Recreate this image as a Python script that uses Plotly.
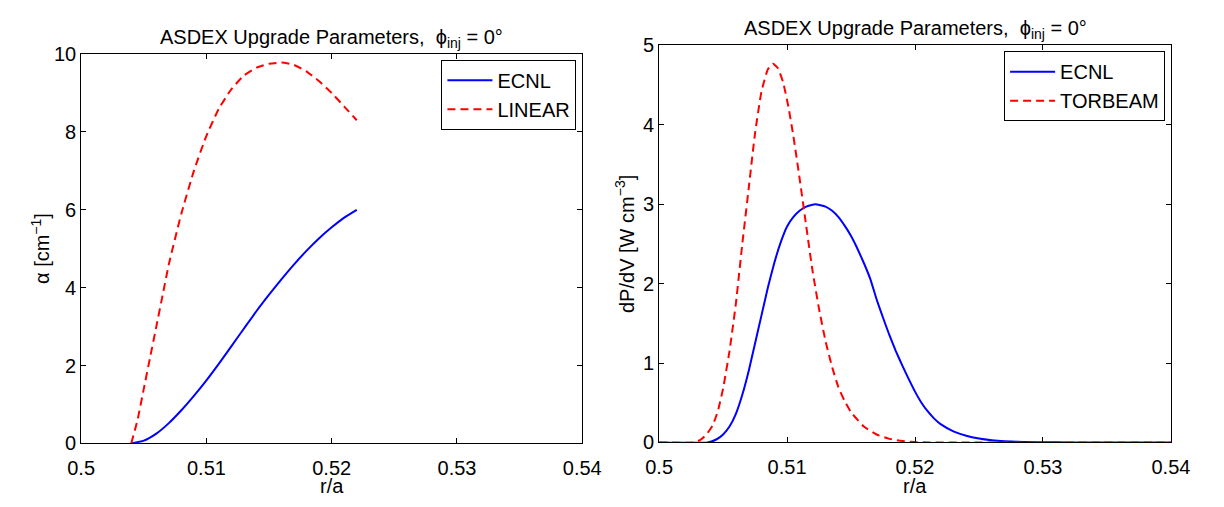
import plotly.graph_objects as go

W, H = 1224, 507

# ---- left panel: absorption coefficient ----
alpha_r = [0.5040, 0.5050, 0.5060, 0.5070, 0.5080, 0.5090, 0.5100, 0.5110, 0.5120,
           0.5130, 0.5140, 0.5150, 0.5160, 0.5170, 0.5180, 0.5190, 0.5200, 0.5210, 0.5220]
alpha_ecnl = [0.0, 0.07, 0.25, 0.52, 0.85, 1.22, 1.62, 2.05, 2.5,
              2.95, 3.4, 3.82, 4.22, 4.6, 4.95, 5.27, 5.55, 5.8, 6.0]

lin_r = [0.5040, 0.5045, 0.5050, 0.5055, 0.5060, 0.5065, 0.5070, 0.5080, 0.5090, 0.5100,
         0.5110, 0.5120, 0.5130, 0.5140, 0.5150, 0.5160, 0.5170, 0.5180, 0.5190, 0.5200,
         0.5210, 0.5220]
alpha_linear = [0.0, 0.6, 1.4, 2.2, 3.0, 3.8, 4.6, 5.9, 7.0, 7.9,
                8.6, 9.1, 9.45, 9.65, 9.75, 9.78, 9.72, 9.55, 9.3, 9.0,
                8.65, 8.3]

# ---- right panel: power deposition ----
ecnl_r = [0.500, 0.5038, 0.5045, 0.5050, 0.5055, 0.5060, 0.5065, 0.5070, 0.5075, 0.5080,
          0.5085, 0.5090, 0.5095, 0.5100, 0.5105, 0.5110, 0.5115, 0.5122, 0.5130, 0.5135,
          0.5140, 0.5145, 0.5150, 0.5155, 0.5160, 0.5165, 0.5170, 0.5175, 0.5180, 0.5185,
          0.5190, 0.5195, 0.5200, 0.5205, 0.5210, 0.5215, 0.5220, 0.5230, 0.5240, 0.5250,
          0.5260, 0.5270, 0.5280, 0.5290, 0.5300, 0.5320, 0.5400]
ecnl_p = [0.0, 0.0, 0.04, 0.10, 0.20, 0.36, 0.60, 0.90, 1.25, 1.60,
          1.95, 2.26, 2.52, 2.72, 2.84, 2.92, 2.97, 3.00, 2.97, 2.92,
          2.84, 2.73, 2.60, 2.44, 2.26, 2.06, 1.80, 1.57, 1.35, 1.15,
          0.97, 0.80, 0.64, 0.50, 0.39, 0.30, 0.23, 0.14, 0.085, 0.05,
          0.028, 0.015, 0.008, 0.004, 0.002, 0.0, 0.0]

torb_r = [0.500, 0.5027, 0.5032, 0.5037, 0.5042, 0.5046, 0.5050, 0.5055, 0.5060, 0.5065,
          0.5070, 0.5075, 0.5080, 0.5085, 0.5089, 0.5093, 0.5097, 0.5101, 0.5105, 0.5110,
          0.5115, 0.5120, 0.5125, 0.5130, 0.5135, 0.5140, 0.5145, 0.5150, 0.5160, 0.5170,
          0.5180, 0.5190, 0.5200, 0.5210, 0.5400]
torb_p = [0.0, 0.0, 0.03, 0.10, 0.22, 0.40, 0.68, 1.15, 1.75, 2.50,
          3.20, 3.90, 4.42, 4.70, 4.77, 4.71, 4.53, 4.23, 3.85, 3.30,
          2.72, 2.15, 1.68, 1.28, 0.96, 0.70, 0.52, 0.38, 0.20, 0.10,
          0.045, 0.018, 0.005, 0.0, 0.0]

x_ticks = [0.5, 0.51, 0.52, 0.53, 0.54]

BLUE = "#0000ff"
RED = "#ff0000"
DASH = "8px,5px"
FONT = "Liberation Sans, Arial, Helvetica, sans-serif"

fig = go.Figure()
fig.add_trace(go.Scatter(x=alpha_r, y=alpha_ecnl, mode="lines", name="ECNL",
                         line=dict(color=BLUE, width=2, shape="spline", smoothing=0.5),
                         xaxis="x", yaxis="y", legend="legend"))
fig.add_trace(go.Scatter(x=lin_r, y=alpha_linear, mode="lines", name="LINEAR",
                         line=dict(color=RED, width=2, dash=DASH, shape="spline", smoothing=0.5),
                         xaxis="x", yaxis="y", legend="legend"))
fig.add_trace(go.Scatter(x=ecnl_r, y=ecnl_p, mode="lines", name="ECNL",
                         line=dict(color=BLUE, width=2, shape="spline", smoothing=0.4),
                         xaxis="x2", yaxis="y2", legend="legend2"))
fig.add_trace(go.Scatter(x=torb_r, y=torb_p, mode="lines", name="TORBEAM",
                         line=dict(color=RED, width=2, dash=DASH, shape="spline", smoothing=0.4),
                         xaxis="x2", yaxis="y2", legend="legend2"))

def px_x(p):
    return p / W

def px_y(p):
    return 1 - p / H

L = dict(x0=69, x1=584, top=45, bot=452)
R = dict(x0=663, x1=1189, top=36, bot=451)

axis_common = dict(showline=True, linecolor="black", linewidth=1, mirror="ticks",
                   ticks="inside", ticklen=5, tickcolor="black", showgrid=False,
                   zeroline=False, tickfont=dict(family=FONT, size=20, color="black"))

legend_common = dict(xanchor="right", yanchor="top", bgcolor="white", bordercolor="black",
                     borderwidth=1, font=dict(family=FONT, size=20, color="black"),
                     tracegroupgap=0, itemwidth=45)

fig.update_layout(
    width=W, height=H,
    margin=dict(l=0, r=0, t=0, b=0),
    paper_bgcolor="white", plot_bgcolor="white",
    font=dict(family=FONT, size=20, color="black"),
    xaxis=dict(domain=[px_x(L["x0"]), px_x(L["x1"])], range=[0.5, 0.54],
               tickvals=x_ticks, anchor="y", ticklabelstandoff=7, **axis_common),
    yaxis=dict(domain=[px_y(L["bot"]), px_y(L["top"])], range=[0, 10],
               tickvals=[0, 2, 4, 6, 8, 10], anchor="x", **axis_common),
    xaxis2=dict(domain=[px_x(R["x0"]), px_x(R["x1"])], range=[0.5, 0.54],
                tickvals=x_ticks, anchor="y2", ticklabelstandoff=7, **axis_common),
    yaxis2=dict(domain=[px_y(R["bot"]), px_y(R["top"])], range=[0, 5],
                tickvals=[0, 1, 2, 3, 4, 5], anchor="x2", **axis_common),
    legend=dict(x=px_x(L["x1"] - 6), y=px_y(L["top"] + 6), **legend_common),
    legend2=dict(x=px_x(R["x1"] - 6), y=px_y(R["top"] + 6), **legend_common),
    showlegend=True,
)

title_text = "ASDEX Upgrade Parameters,  ϕ<sub>inj</sub> = 0°"
ann = []
for P in (L, R):
    ann.append(dict(text=title_text, xref="paper", yref="paper",
                    x=px_x((P["x0"] + P["x1"]) / 2), y=px_y(P["top"] - 1),
                    xanchor="center", yanchor="bottom", showarrow=False,
                    font=dict(family=FONT, size=20, color="black")))
    ann.append(dict(text="r/a", xref="paper", yref="paper",
                    x=px_x((P["x0"] + P["x1"]) / 2), y=px_y(497),
                    xanchor="center", yanchor="middle", showarrow=False,
                    font=dict(family=FONT, size=20, color="black")))
ann.append(dict(text="α [cm<sup>−1</sup>]", xref="paper", yref="paper",
                x=px_x(27), y=px_y((L["top"] + L["bot"]) / 2), textangle=-90,
                xanchor="center", yanchor="middle", showarrow=False,
                font=dict(family=FONT, size=20, color="black")))
ann.append(dict(text="dP/dV [W cm<sup>−3</sup>]", xref="paper", yref="paper",
                x=px_x(628), y=px_y((R["top"] + R["bot"]) / 2), textangle=-90,
                xanchor="center", yanchor="middle", showarrow=False,
                font=dict(family=FONT, size=20, color="black")))
fig.update_layout(annotations=ann)

fig.write_html("out.html", config={"displayModeBar": False},
               post_script="document.body.style.margin='0px';document.body.style.overflow='hidden';")
